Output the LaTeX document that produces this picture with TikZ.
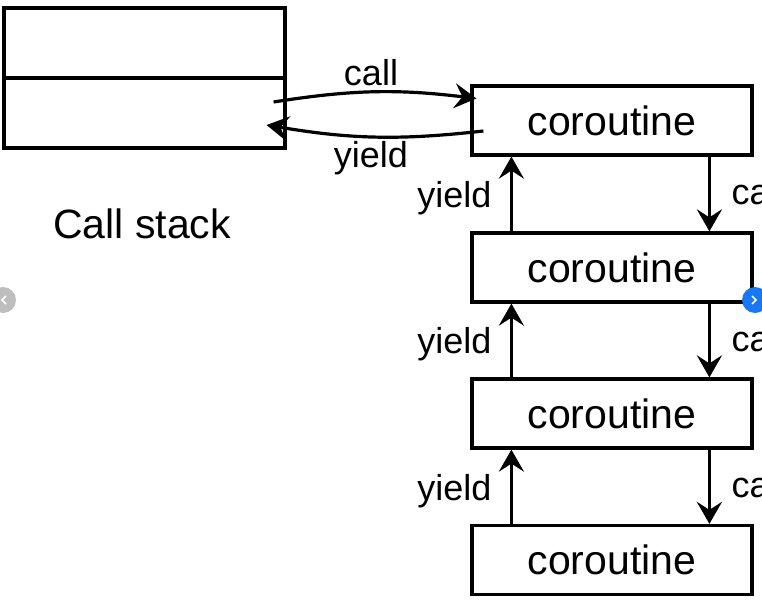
\documentclass[tikz,border=0pt]{standalone}
\usepackage{fontspec}
\setmainfont{Liberation Sans}
\usetikzlibrary{arrows.meta,positioning,calc}
\definecolor{navblue}{RGB}{24,119,242}
\definecolor{navgray}{RGB}{190,190,190}

\tikzset{
  cobox/.style={draw,line width=3.2pt,minimum width=280pt,minimum height=69pt,inner sep=0pt,font=\fontsize{41}{48}\selectfont},
  stackcell/.style={draw,line width=3.2pt,minimum width=281pt,minimum height=70pt,inner sep=0pt},
  lbl/.style={font=\fontsize{36}{42}\selectfont,inner sep=0pt},
  arr/.style={line width=3.2pt,-{Stealth[length=22pt,width=25pt,inset=8pt]}},
}

\begin{document}
\begin{tikzpicture}[x=1pt,y=-1pt]
  \path[use as bounding box,clip] (0,0) rectangle (762,602);
  % call stack
  \node[stackcell] (stacktop) at (144.5,43) {};
  \node[stackcell] (stackbot) at (144.5,113) {};
  \node[lbl,font=\fontsize{41}{48}\selectfont] (stacklbl) at (142,224) {Call stack};
  % coroutines
  \foreach \i/\y in {1/120.5,2/267.5,3/413.5,4/560}
    \node[cobox] (co\i) at (612,\y) {coroutine};
  \draw[arr] ($(stackbot.east)+(-13,-11)$) to[bend left=8] ($(co1.west)+(6,-22)$);
  \draw[arr] ($(co1.west)+(13,10.5)$) to[bend left=8] ($(stackbot.east)+(-20,12)$);
  \node[lbl] at (371,73) {call};
  \node[lbl] at (371,158) {yield};
  \foreach \i/\j in {1/2,2/3,3/4} {
    \draw[arr] ($(co\j.north west)+(41,0)$) -- ($(co\i.south west)+(41,0)$);
    \draw[arr] ($(co\i.south west)+(239,0)$) -- ($(co\j.north west)+(239,0)$);
    \node[lbl] at ($(co\j.north west)+(-16,-33)$) {yield};
    \node[lbl,anchor=west] at ($(co\i.south west)+(261,35)$) {call};
  }
  % slider buttons
  \fill[navgray] (3,300) circle (13);
  \draw[white,line width=1.5pt] (6,296) -- (2,300) -- (6,304);
  \fill[navblue] (755,300) circle (13);
  \draw[white,line width=1.5pt] (752,296) -- (756,300) -- (752,304);
\end{tikzpicture}
\end{document}
